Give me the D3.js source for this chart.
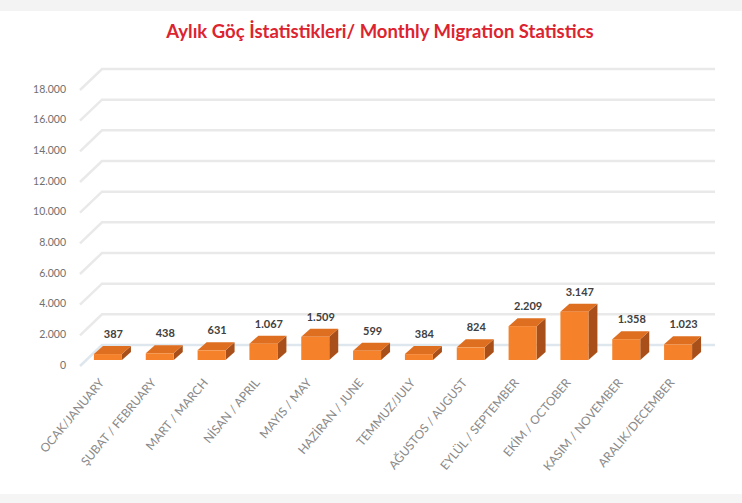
<!DOCTYPE html>
<html>
<head>
<meta charset="utf-8">
<script src="https://cdn.jsdelivr.net/npm/d3@7"></script>
<style>
  body { margin: 0; background: #fff; }
  svg { display: block; }
</style>
</head>
<body>
<div id="chart"></div>
<script>
const months = ["OCAK/JANUARY", "ŞUBAT / FEBRUARY", "MART / MARCH", "NİSAN / APRIL",
  "MAYIS / MAY", "HAZİRAN / JUNE", "TEMMUZ/JULY", "AĞUSTOS / AUGUST",
  "EYLÜL / SEPTEMBER", "EKİM / OCTOBER", "KASIM / NOVEMBER", "ARALIK/DECEMBER"]
const migrants = [387, 438, 631, 1067, 1509, 599, 384, 824, 2209, 3147, 1358, 1023]
const yTicks = [0, 2000, 4000, 6000, 8000, 10000, 12000, 14000, 16000, 18000]
const title = "Aylık Göç İstatistikleri/ Monthly Migration Statistics"

const W = 742, H = 503
const colors = {
  title: "#dc2430",
  grid: "#e9e9e9",
  tick: "#707070",
  label: "#404040",
  month: "#8a8a8a",
  front: "#f5822a",
  top: "#df6f20",
  side: "#a9501a"
}
// 3D offsets: back wall relative to front axis, bar depth
const wall = {dx: 22, dy: -21}
const depth = {dx: 9, dy: -8}
const barBase = 5 // bars sit a bit behind the front edge of the floor

const svg = d3.select("#chart").append("svg").attr("width", W).attr("height", H)

// frame bands like the screenshot
svg.append("rect").attr("x", 0).attr("y", 0).attr("width", W).attr("height", 11).attr("fill", "#f3f3f3")
svg.append("rect").attr("x", 0).attr("y", 494).attr("width", W).attr("height", 9).attr("fill", "#f5f5f5")

const fmt = d3.formatLocale({decimal: ",", thousands: ".", grouping: [3], currency: ["", ""]}).format(",d")

const x = d3.scaleBand().domain(months).range([82, 704]).paddingInner(0.46).paddingOuter(0.23)
const y = d3.scaleLinear().domain([0, 18000]).range([365, 89])

svg.append("text")
  .attr("x", 380).attr("y", 38)
  .attr("text-anchor", "middle")
  .attr("font-family", "Lato, sans-serif")
  .attr("font-weight", "bold")
  .attr("font-size", 18.5)
  .attr("fill", colors.title)
  .text(title)

// back wall gridlines with diagonal on the side wall
const grid = svg.append("g")
grid.selectAll(".grid").data(yTicks).enter().append("path")
  .attr("class", "grid")
  .attr("fill", "none")
  .attr("stroke", d => d === 0 ? "#dfe7ee" : colors.grid)
  .attr("stroke-width", 2.5)
  .attr("d", d => `M${80},${y(d) + 1}L${80 + wall.dx},${y(d) + 1 + wall.dy}H715`)

svg.append("g").selectAll("text").data(yTicks).enter().append("text")
  .attr("x", 66).attr("y", d => y(d))
  .attr("dy", "0.35em")
  .attr("text-anchor", "end")
  .attr("font-family", "Lato, sans-serif")
  .attr("font-size", 10.5)
  .attr("fill", colors.tick)
  .text(d => fmt(d))

// 3D bars
const bars = svg.append("g").selectAll(".bar").data(migrants).enter().append("g")
  .attr("class", "bar")
  .attr("transform", (d, i) => `translate(${x(months[i])},0)`)

const bw = x.bandwidth()
const barTop = d => y(d) - barBase
const barBottom = y(0) - barBase

bars.append("path")
  .attr("fill", colors.side)
  .attr("d", d => `M${bw},${barTop(d)}L${bw + depth.dx},${barTop(d) + depth.dy}L${bw + depth.dx},${barBottom + depth.dy}L${bw},${barBottom}Z`)
bars.append("path")
  .attr("fill", colors.top)
  .attr("d", d => `M0,${barTop(d)}L${depth.dx},${barTop(d) + depth.dy}L${bw + depth.dx},${barTop(d) + depth.dy}L${bw},${barTop(d)}Z`)
bars.append("rect")
  .attr("fill", colors.front)
  .attr("x", 0).attr("y", d => barTop(d))
  .attr("width", bw).attr("height", d => barBottom - barTop(d))

bars.append("text")
  .attr("x", bw / 2 + depth.dx / 2 + 1)
  .attr("y", d => barTop(d) + depth.dy - 8)
  .attr("text-anchor", "middle")
  .attr("font-family", "Lato, sans-serif")
  .attr("font-weight", "bold")
  .attr("font-size", 11)
  .attr("fill", colors.label)
  .text(d => fmt(d))

// rotated month labels
svg.append("g").selectAll("text").data(months).enter().append("text")
  .attr("transform", d => `translate(${x(d) + bw / 2 - 3},${383}) rotate(-50)`)
  .attr("text-anchor", "end")
  .attr("font-family", "Lato, sans-serif")
  .attr("font-size", 12)
  .attr("fill", colors.month)
  .text(d => d)
</script>
</body>
</html>
